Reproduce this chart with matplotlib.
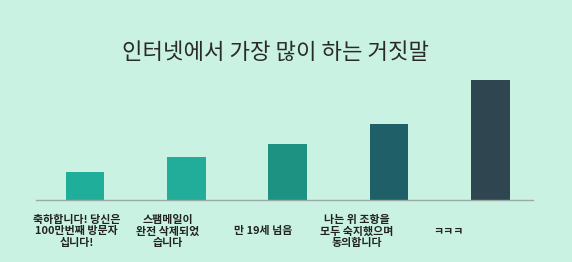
import matplotlib.pyplot as plt

plt.rcParams['font.family'] = ['Noto Sans CJK KR', 'DejaVu Sans']

title = "인터넷에서 가장 많이 하는 거짓말"
labels = ["축하합니다! 당신은\n100만번째 방문자\n십니다!",
          "스팸메일이\n완전 삭제되었\n습니다",
          "만 19세 넘음",
          "나는 위 조항을\n모두 숙지했으며\n동의합니다",
          "ㅋㅋㅋ"]
values = [28, 43, 56, 76, 120]
colors = ["#1fae9a", "#21ad99", "#1e9282", "#1e5f68", "#2f4650"]
# labels sit a bit left of the bars in the original
label_pos = [-0.08, 0.82, 1.755, 2.68, 3.59]

bg = "#c9f2e3"
fig = plt.figure(figsize=(5.72, 2.62), dpi=100, facecolor=bg)
ax = fig.add_axes([36 / 572, 62 / 262, 497 / 572, 119.7 / 262])
ax.set_facecolor(bg)

ax.bar(range(len(values)), values, width=0.38, color=colors)
ax.set_xlim(-0.483, 4.42)
ax.set_ylim(0, 120)

for s in ['top', 'right', 'left']:
    ax.spines[s].set_visible(False)
ax.spines['bottom'].set_color("#9aaba5")
ax.spines['bottom'].set_linewidth(1.0)
ax.set_xticks([])
ax.set_yticks([])

for x, lab in zip(label_pos, labels):
    ax.text(x, -0.262, lab, transform=ax.get_xaxis_transform(),
            ha='center', va='center', multialignment='center',
            fontsize=7.9, color="#222222", fontweight='bold', linespacing=1.22)

fig.text(275 / 572, 1 - 52 / 262, title, ha='center', va='center',
         fontsize=16, color="#2a2a2a", fontweight='medium')

fig.savefig("out.png", dpi=100, facecolor=bg)
